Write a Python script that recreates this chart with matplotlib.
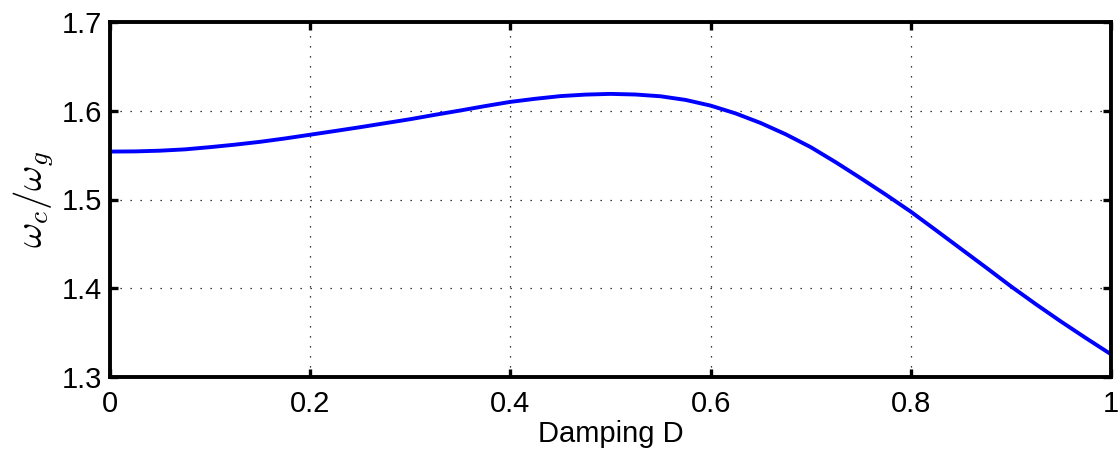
import numpy as np
import matplotlib.pyplot as plt

plt.rcParams['font.family'] = ['Liberation Sans', 'DejaVu Sans']
plt.rcParams['mathtext.fontset'] = 'cm'

# damping values and read-off ratio omega_c / omega_g
damping = [0.0, 0.025, 0.05, 0.075, 0.1, 0.125, 0.15, 0.175, 0.2, 0.225,
           0.25, 0.275, 0.3, 0.325, 0.35, 0.375, 0.4, 0.425, 0.45, 0.475,
           0.5, 0.525, 0.55, 0.575, 0.6, 0.625, 0.65, 0.675, 0.7, 0.725,
           0.75, 0.775, 0.8, 0.825, 0.85, 0.875, 0.9, 0.925, 0.95, 0.975, 1.0]
ratio = [1.5540, 1.5542, 1.5550, 1.5565, 1.5590, 1.5618, 1.5650, 1.5688, 1.5730, 1.5772,
         1.5815, 1.5860, 1.5905, 1.5955, 1.6003, 1.6053, 1.6100, 1.6135, 1.6165, 1.6182,
         1.6190, 1.6183, 1.6163, 1.6122, 1.6058, 1.5970, 1.5862, 1.5735, 1.5590, 1.5420,
         1.5240, 1.5055, 1.4863, 1.4655, 1.4445, 1.4235, 1.4022, 1.3820, 1.3625, 1.3438, 1.3256]

xticks = [0, 0.2, 0.4, 0.6, 0.8, 1]
yticks = [1.3, 1.4, 1.5, 1.6, 1.7]

fig = plt.figure(figsize=(11.2, 4.5), dpi=100)
ax = fig.add_axes([110 / 1120, 1 - 377 / 450, 1001 / 1120, 355 / 450])

ax.plot(damping, ratio, color='#0000ff', linewidth=2.8)

ax.set_xlim(0, 1)
ax.set_ylim(1.3, 1.7)
ax.set_xticks(xticks)
ax.set_xticklabels(['0', '0.2', '0.4', '0.6', '0.8', '1'])
ax.set_yticks(yticks)
ax.set_yticklabels(['1.3', '1.4', '1.5', '1.6', '1.7'])

# matlab style box, inward ticks on every side
ax.tick_params(direction='in', length=6, width=2.4, top=True, right=True,
               labelsize=21)
ax.tick_params(axis='x', pad=9)
ax.tick_params(axis='y', pad=6)
for s in ax.spines.values():
    s.set_linewidth(2.8)

ax.grid(True, color='black', linestyle=(0, (1, 7)), linewidth=0.9)

ax.set_xlabel('Damping D', fontsize=21, labelpad=2)
ax.set_ylabel(r'$\omega_c/\omega_g$', fontsize=28, labelpad=4)

fig.savefig('out.png', dpi=100)
